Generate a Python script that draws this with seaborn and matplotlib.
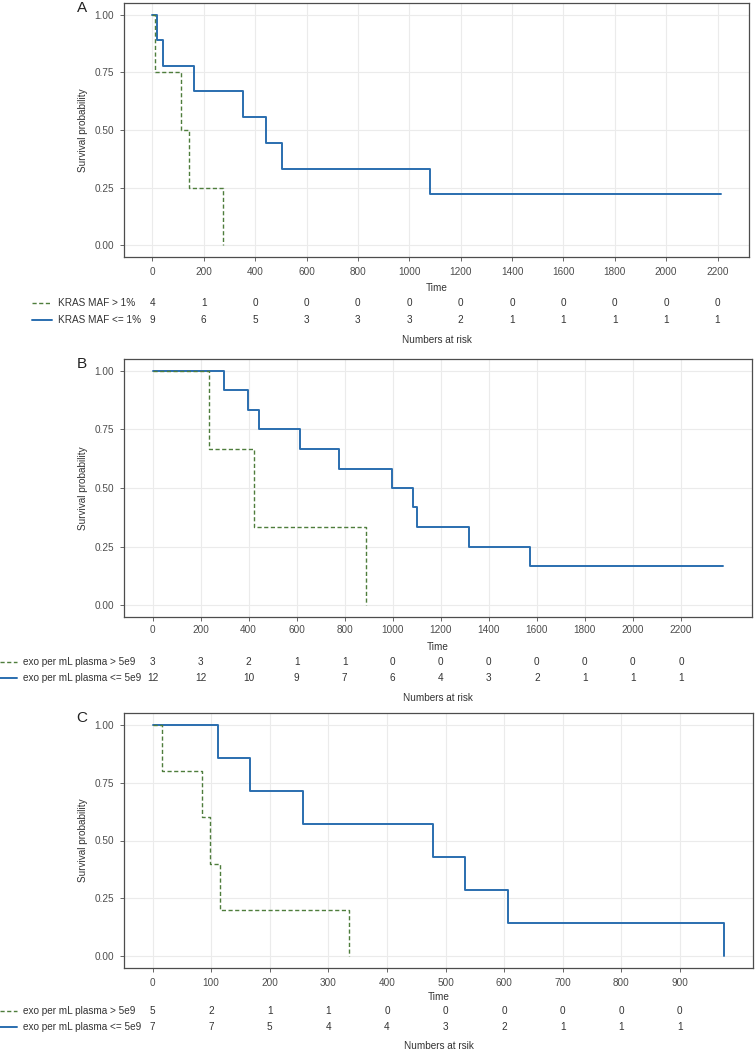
import matplotlib
matplotlib.use("Agg")
import matplotlib.pyplot as plt
import matplotlib.transforms as mtransforms
from matplotlib.lines import Line2D
import pandas as pd
import seaborn as sns

# Kaplan-Meier step data (time, survival)
a_hi_time = [0, 9, 110, 144, 275]
a_hi_surv = [1.0, 0.75, 0.50, 0.25, 0.0]
a_lo_time = [0, 19, 43, 162, 353, 443, 506, 1079, 2212]
a_lo_surv = [1.0, 0.889, 0.778, 0.667, 0.556, 0.444, 0.333, 0.222, 0.222]

b_hi_time = [0, 233, 422, 889]
b_hi_surv = [1.0, 0.667, 0.333, 0.0]
b_lo_time = [0, 296, 396, 445, 615, 777, 995, 1085, 1102, 1317, 1573, 2377]
b_lo_surv = [1.0, 0.917, 0.833, 0.75, 0.667, 0.583, 0.5, 0.417, 0.333, 0.25, 0.167, 0.167]

c_hi_time = [0, 16, 85, 98, 115, 335]
c_hi_surv = [1.0, 0.8, 0.6, 0.4, 0.2, 0.0]
c_lo_time = [0, 111, 166, 257, 479, 533, 607, 976]
c_lo_surv = [1.0, 0.857, 0.714, 0.571, 0.429, 0.286, 0.143, 0.0]

# x ticks and numbers at risk
ticks_ab = [0, 200, 400, 600, 800, 1000, 1200, 1400, 1600, 1800, 2000, 2200]
ticks_c = [0, 100, 200, 300, 400, 500, 600, 700, 800, 900]
a_hi_risk = [4, 1, 0, 0, 0, 0, 0, 0, 0, 0, 0, 0]
a_lo_risk = [9, 6, 5, 3, 3, 3, 2, 1, 1, 1, 1, 1]
b_hi_risk = [3, 3, 2, 1, 1, 0, 0, 0, 0, 0, 0, 0]
b_lo_risk = [12, 12, 10, 9, 7, 6, 4, 3, 2, 1, 1, 1]
c_hi_risk = [5, 2, 1, 1, 0, 0, 0, 0, 0, 0]
c_lo_risk = [7, 7, 5, 4, 4, 3, 2, 1, 1, 1]

a_labels = ["KRAS MAF > 1%", "KRAS MAF <= 1%"]
bc_labels = ["exo per mL plasma > 5e9", "exo per mL plasma <= 5e9"]

y_ticks = [0.0, 0.25, 0.50, 0.75, 1.0]
y_ticklabels = ["0.00", "0.25", "0.50", "0.75", "1.00"]

GREEN = "#4e7d3c"
BLUE = "#2a6eaf"
GREY = "#4d4d4d"

sns.set_theme(style="white")
plt.rcParams["font.family"] = ["Liberation Sans", "DejaVu Sans"]

W, H = 756, 1051
fig = plt.figure(figsize=(7.56, 10.51), dpi=100)


def fx(px):
    return px / W


def fy(py):
    return 1 - py / H


def draw_panel(box, letter, ticks, hi, lo, risks, labels, rows, time_y, nar_y,
               nar_text, leg_x, xpad):
    left, top, right, bottom = box
    ax = fig.add_axes([fx(left), fy(bottom), (right - left) / W, (bottom - top) / H])
    tmax = max(max(hi[0]), max(lo[0]))

    df_lo = pd.DataFrame({"time": lo[0], "surv": lo[1]})
    df_hi = pd.DataFrame({"time": hi[0], "surv": hi[1]})
    sns.lineplot(data=df_lo, x="time", y="surv", ax=ax, color=BLUE, lw=1.4,
                 drawstyle="steps-post", estimator=None, sort=False)
    sns.lineplot(data=df_hi, x="time", y="surv", ax=ax, color=GREEN, lw=1.0,
                 linestyle=(0, (3, 1.8)), drawstyle="steps-post",
                 estimator=None, sort=False)

    ax.set_xlim(-0.05 * tmax, 1.05 * tmax)
    ax.set_ylim(-0.05, 1.05)
    ax.set_xticks(ticks)
    ax.set_yticks(y_ticks)
    ax.set_yticklabels(y_ticklabels)
    ax.grid(True, color="#ebebeb", lw=0.8)
    ax.set_axisbelow(True)
    for sp in ax.spines.values():
        sp.set_color(GREY)
        sp.set_linewidth(0.9)
    ax.tick_params(axis="both", direction="out", length=3, width=0.6,
                   color=GREY, labelcolor=GREY, labelsize=7.2, pad=4)
    ax.tick_params(axis="x", pad=xpad)
    ax.tick_params(left=True, bottom=True)

    ax.set_ylabel("Survival probability", fontsize=7.2, color="#333333")
    ax.yaxis.set_label_coords((88 - left) / (right - left), 0.5)
    ax.set_xlabel("Time", fontsize=7.2, color="#333333")
    ax.xaxis.set_label_coords(0.5, (bottom - time_y + 5) / (bottom - top))

    fig.text(fx(82), fy(top + 5), letter, ha="center", va="center",
             fontsize=11, color="#222222")

    # numbers at risk table
    trans = mtransforms.blended_transform_factory(ax.transData, fig.transFigure)
    styles = [(GREEN, (0, (3, 1.8)), 1.0), (BLUE, "-", 1.4)]
    for row_y, counts, lab, (col, ls, lw) in zip(rows, risks, labels, styles):
        for t, n in zip(ticks, counts):
            ax.text(t, fy(row_y), str(n), transform=trans, ha="center",
                    va="center", fontsize=7.2, color="#333333")
        fig.text(fx(leg_x[2]), fy(row_y), lab, ha="left", va="center",
                 fontsize=7.2, color="#333333")
        fig.add_artist(Line2D([fx(leg_x[0]), fx(leg_x[1])], [fy(row_y), fy(row_y)],
                              transform=fig.transFigure, color=col, ls=ls, lw=lw))
    fig.text(fx((left + right) / 2), fy(nar_y), nar_text, ha="center",
             va="center", fontsize=7.2, color="#333333")
    return ax


draw_panel((124, 3, 749, 257), "A", ticks_ab, (a_hi_time, a_hi_surv),
           (a_lo_time, a_lo_surv), [a_hi_risk, a_lo_risk], a_labels,
           [303, 320], 288, 340, "Numbers at risk", (32, 52, 58), 4.5)
draw_panel((124, 359, 752, 617), "B", ticks_ab, (b_hi_time, b_hi_surv),
           (b_lo_time, b_lo_surv), [b_hi_risk, b_lo_risk], bc_labels,
           [662, 678], 647, 698, "Numbers at risk", (0, 17, 23), 2.5)
draw_panel((124, 713, 753, 968), "C", ticks_c, (c_hi_time, c_hi_surv),
           (c_lo_time, c_lo_surv), [c_hi_risk, c_lo_risk], bc_labels,
           [1011, 1027], 997, 1046, "Numbers at rsik", (0, 17, 23), 4.0)

fig.savefig("out.png", dpi=100)
